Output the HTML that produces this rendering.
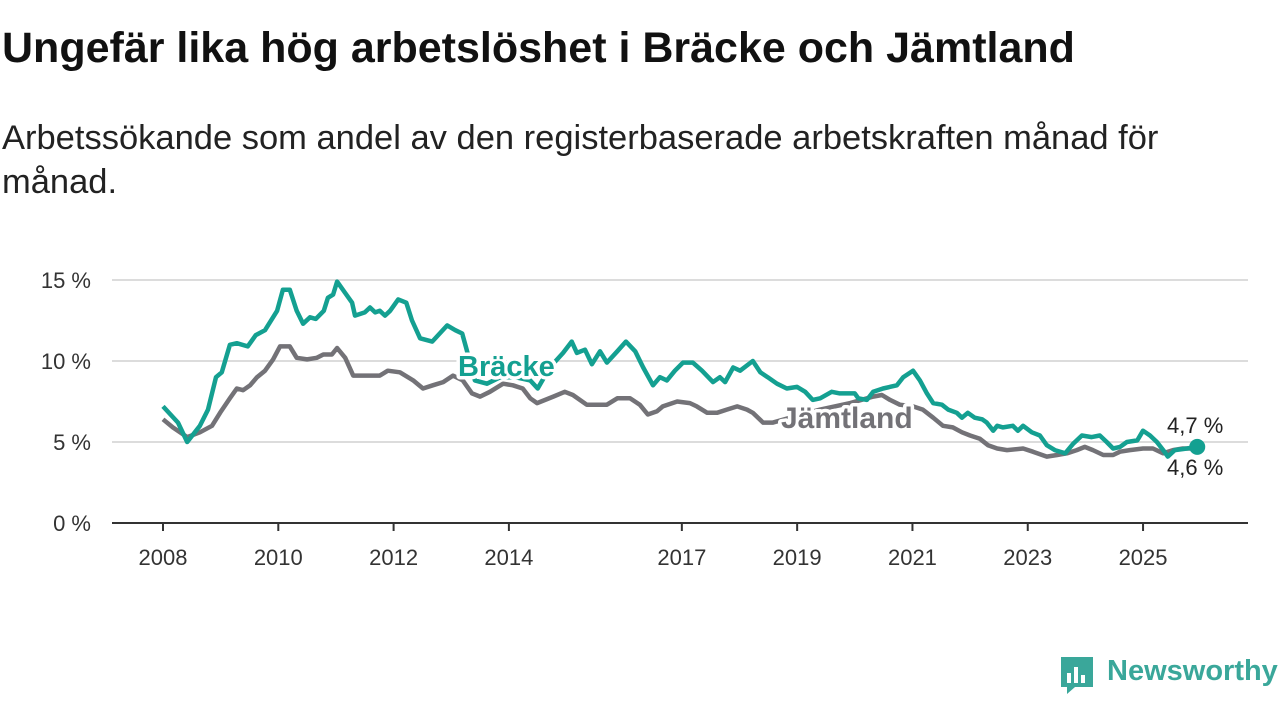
<!DOCTYPE html>
<html><head><meta charset="utf-8">
<style>
html,body{margin:0;padding:0;background:#fff;}
body{width:1280px;height:720px;overflow:hidden;position:relative;font-family:"Liberation Sans",sans-serif;color:#111;}
h1{position:absolute;left:2px;top:24px;margin:0;font-size:43px;font-weight:bold;letter-spacing:0;white-space:nowrap;}
.sub{position:absolute;left:2px;top:116px;margin:0;font-size:34.5px;line-height:44px;width:1220px;color:#222;}
svg{position:absolute;left:0;top:0;}
</style></head>
<body>
<h1>Ungefär lika hög arbetslöshet i Bräcke och Jämtland</h1>
<p class="sub">Arbetssökande som andel av den registerbaserade arbetskraften månad för månad.</p>
<svg id="chart" width="1280" height="720"></svg>
<script>
const yTicks=[0,5,10,15];
const xTicks=[2008,2010,2012,2014,2017,2019,2021,2023,2025];
const brackeDates=[2008.00,2008.26,2008.42,2008.64,2008.78,2008.92,2009.02,2009.16,2009.28,2009.47,2009.61,2009.77,2009.98,2010.08,2010.20,2010.32,2010.43,2010.55,2010.65,2010.79,2010.86,2010.95,2011.02,2011.16,2011.28,2011.33,2011.50,2011.59,2011.68,2011.76,2011.85,2011.94,2012.08,2012.22,2012.32,2012.46,2012.67,2012.93,2013.07,2013.19,2013.26,2013.41,2013.62,2013.85,2014.11,2014.37,2014.50,2014.71,2014.94,2015.09,2015.18,2015.32,2015.44,2015.58,2015.70,2015.88,2016.03,2016.19,2016.33,2016.50,2016.62,2016.74,2016.88,2017.02,2017.19,2017.35,2017.54,2017.66,2017.75,2017.89,2018.01,2018.23,2018.36,2018.49,2018.65,2018.82,2019.00,2019.14,2019.27,2019.40,2019.60,2019.74,2020.00,2020.06,2020.21,2020.32,2020.49,2020.73,2020.84,2021.01,2021.13,2021.25,2021.36,2021.51,2021.62,2021.77,2021.86,2021.96,2022.08,2022.21,2022.29,2022.40,2022.47,2022.57,2022.74,2022.83,2022.92,2023.07,2023.21,2023.33,2023.47,2023.65,2023.79,2023.94,2024.11,2024.25,2024.37,2024.48,2024.60,2024.72,2024.90,2025.00,2025.12,2025.24,2025.35,2025.43,2025.55,2025.76,2025.94];
const brackeValues=[7.2,6.2,5.0,6.0,7.0,9.0,9.3,11.0,11.1,10.9,11.6,11.9,13.1,14.4,14.4,13.1,12.3,12.7,12.6,13.1,13.9,14.1,14.9,14.2,13.6,12.8,13.0,13.3,13.0,13.1,12.8,13.1,13.8,13.6,12.5,11.4,11.2,12.2,11.9,11.7,10.8,8.8,8.6,9.0,9.0,8.8,8.3,9.6,10.5,11.2,10.5,10.7,9.8,10.6,9.9,10.6,11.2,10.6,9.6,8.5,9.0,8.8,9.4,9.9,9.9,9.4,8.7,9.0,8.7,9.6,9.4,10.0,9.3,9.0,8.6,8.3,8.4,8.1,7.6,7.7,8.1,8.0,8.0,7.7,7.6,8.1,8.3,8.5,9.0,9.4,8.8,8.0,7.4,7.3,7.0,6.8,6.5,6.8,6.5,6.4,6.2,5.7,6.0,5.9,6.0,5.7,6.0,5.6,5.4,4.8,4.5,4.3,4.9,5.4,5.3,5.4,5.0,4.6,4.7,5.0,5.1,5.7,5.4,5.0,4.5,4.1,4.5,4.6,4.7];
const jamtDates=[2008.00,2008.17,2008.42,2008.64,2008.85,2008.99,2009.16,2009.28,2009.39,2009.51,2009.63,2009.77,2009.91,2010.03,2010.20,2010.32,2010.50,2010.67,2010.78,2010.93,2011.02,2011.16,2011.30,2011.47,2011.76,2011.90,2012.11,2012.34,2012.51,2012.68,2012.86,2013.03,2013.20,2013.36,2013.50,2013.67,2013.90,2014.07,2014.24,2014.37,2014.49,2014.77,2014.97,2015.11,2015.35,2015.70,2015.88,2016.10,2016.27,2016.41,2016.57,2016.67,2016.92,2017.14,2017.26,2017.44,2017.61,2017.78,2017.96,2018.13,2018.23,2018.41,2018.58,2018.88,2019.40,2019.92,2020.32,2020.47,2020.61,2020.78,2021.01,2021.18,2021.36,2021.53,2021.70,2021.86,2022.00,2022.17,2022.31,2022.47,2022.64,2022.92,2023.09,2023.33,2023.51,2023.68,2023.85,2023.99,2024.13,2024.31,2024.48,2024.60,2024.77,2025.00,2025.17,2025.35,2025.52,2025.69,2025.94];
const jamtValues=[6.4,5.9,5.3,5.6,6.0,6.8,7.7,8.3,8.2,8.5,9.0,9.4,10.1,10.9,10.9,10.2,10.1,10.2,10.4,10.4,10.8,10.2,9.1,9.1,9.1,9.4,9.3,8.8,8.3,8.5,8.7,9.1,8.8,8.0,7.8,8.1,8.6,8.5,8.3,7.7,7.4,7.8,8.1,7.9,7.3,7.3,7.7,7.7,7.3,6.7,6.9,7.2,7.5,7.4,7.2,6.8,6.8,7.0,7.2,7.0,6.8,6.2,6.2,6.5,7.0,7.4,7.8,7.9,7.6,7.3,7.2,7.0,6.5,6.0,5.9,5.6,5.4,5.2,4.8,4.6,4.5,4.6,4.4,4.1,4.2,4.3,4.5,4.7,4.5,4.2,4.2,4.4,4.5,4.6,4.6,4.3,4.5,4.6,4.6];

const NS='http://www.w3.org/2000/svg';
const svg=document.getElementById('chart');
const X=y=>163+(y-2008)*57.65;
const Y=v=>523-v*16.2;
function mk(t,a){const e=document.createElementNS(NS,t);for(const k in a)e.setAttribute(k,a[k]);svg.appendChild(e);return e;}

yTicks.forEach(v=>{
  if(v>0){const g=mk('line',{x1:112,x2:1248,y1:Y(v),y2:Y(v),stroke:'#dcdcdc','stroke-width':2});
  
  }
  const t=mk('text',{x:91,y:Y(v)+8,'text-anchor':'end','font-size':22,fill:'#333'});
  t.textContent=v+' %';
  
  
});
const ax=mk('line',{x1:112,x2:1248,y1:523,y2:523,stroke:'#333','stroke-width':2});


xTicks.forEach(yr=>{
  const tk=mk('line',{x1:X(yr),x2:X(yr),y1:523,y2:531,stroke:'#333','stroke-width':2});
  
  
  const t=mk('text',{x:X(yr),y:565,'text-anchor':'middle','font-size':22,fill:'#333'});
  t.textContent=yr;
  
  
});
function pts(d,v){return d.map((x,i)=>X(x).toFixed(1)+','+Y(v[i]).toFixed(1)).join(' ');}
const lj=mk('polyline',{points:pts(jamtDates,jamtValues),fill:'none',stroke:'#737277','stroke-width':4.5,'stroke-linejoin':'round'});


const lb=mk('polyline',{points:pts(brackeDates,brackeValues),fill:'none',stroke:'#14a091','stroke-width':4.5,'stroke-linejoin':'round'});


const dot=mk('circle',{cx:X(brackeDates[brackeDates.length-1]),cy:Y(brackeValues[brackeValues.length-1]),r:8,fill:'#14a091'});



const l1=mk('text',{x:458,y:376,'font-size':29,'font-weight':'bold',fill:'#14a091',stroke:'#fff','stroke-width':7,'paint-order':'stroke','stroke-linejoin':'round'});
l1.textContent='Bräcke';


const l2=mk('text',{x:781,y:428,'font-size':30,'font-weight':'bold',fill:'#737277',stroke:'#fff','stroke-width':7,'paint-order':'stroke','stroke-linejoin':'round'});
l2.textContent='Jämtland';


const e1=mk('text',{x:1167,y:433,'font-size':22,fill:'#222',stroke:'#fff','stroke-width':4,'paint-order':'stroke'});
e1.textContent='4,7 %';


const e2=mk('text',{x:1167,y:475,'font-size':22,fill:'#222',stroke:'#fff','stroke-width':4,'paint-order':'stroke'});
e2.textContent='4,6 %';


</script>
<div style="position:absolute;left:1059px;top:655px;height:40px;">
  <svg width="36" height="40" viewBox="0 0 36 40" style="position:absolute;left:0;top:0;">
    <path d="M2 2 H34 V32 H16 L8 39 V32 H2 Z" fill="#3aa79a"/>
    <rect x="8" y="18" width="4" height="10" fill="#fff"/>
    <rect x="15" y="12" width="4" height="16" fill="#fff"/>
    <rect x="22" y="20" width="4" height="8" fill="#fff"/>
  </svg>
  <span style="position:absolute;left:48px;top:0px;font-size:29px;color:#3aa79a;white-space:nowrap;font-weight:bold;">Newsworthy</span>
</div>
</body></html>
